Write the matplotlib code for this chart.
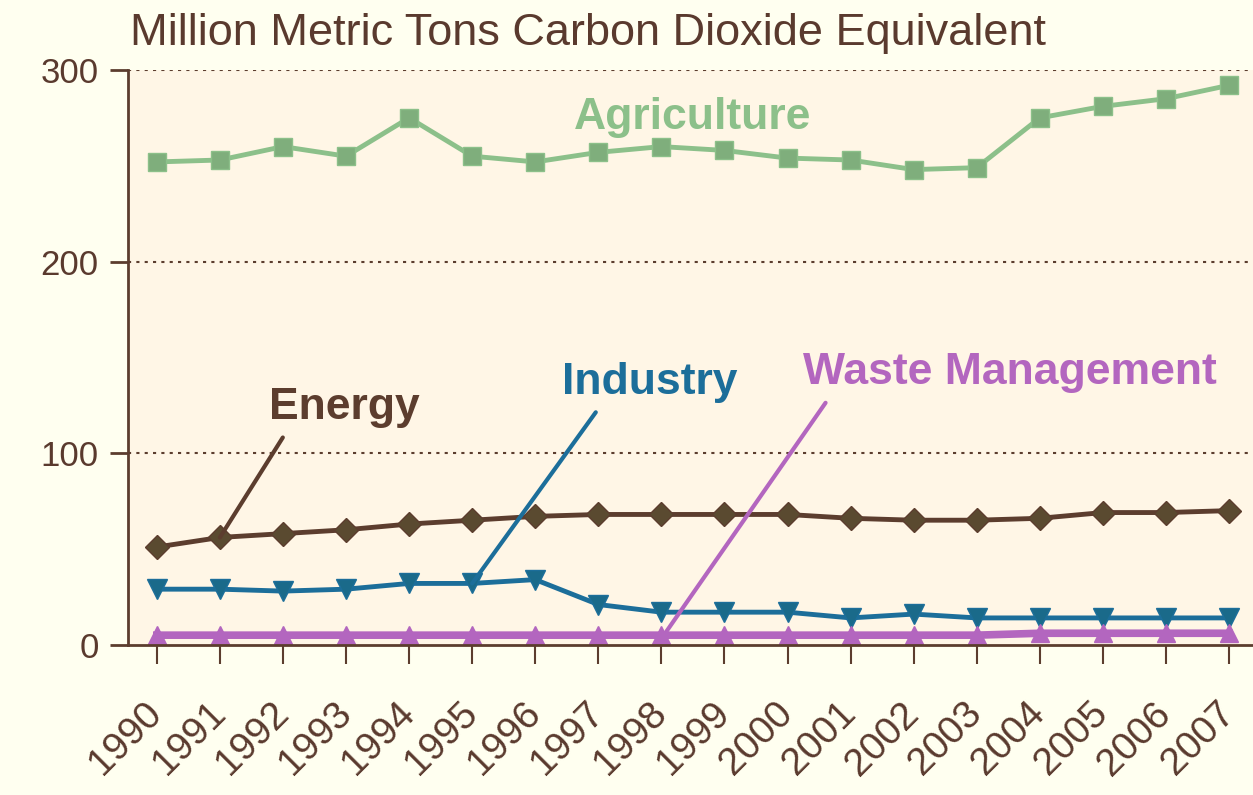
import matplotlib.pyplot as plt
from matplotlib.transforms import ScaledTranslation

plt.rcParams["font.family"] = ["Liberation Sans", "DejaVu Sans"]

years = list(range(1990, 2008))
agriculture = [252, 253, 260, 255, 275, 255, 252, 257, 260, 258, 254, 253, 248, 249, 275, 281, 285, 292]
energy = [51, 56, 58, 60, 63, 65, 67, 68, 68, 68, 68, 66, 65, 65, 66, 69, 69, 70]
industry = [29, 29, 28, 29, 32, 32, 34, 21, 17, 17, 17, 14, 16, 14, 14, 14, 14, 14]
waste = [5, 5, 5, 5, 5, 5, 5, 5, 5, 5, 5, 5, 5, 5, 6, 6, 6, 6]

TEXT = "#5a3a2e"
BROWN = "#5c3d2e"
GREEN = "#8cc08a"
BLUE = "#1c6e9a"
PURPLE = "#b366bf"

fig = plt.figure(figsize=(12.53, 7.95), dpi=100, facecolor="#fffff0")
ax = fig.add_axes([0.102, 0.189, 0.898, 0.723])
ax.set_facecolor("#fff6e6")

ax.plot(years, agriculture, color=GREEN, lw=3.5, marker="s", ms=13,
        mfc="#7fae7c", mec=GREEN)
ax.plot(years, energy, color=BROWN, lw=3.5, marker="D", ms=12,
        mfc="#5a4a30", mec=BROWN)
ax.plot(years, industry, color=BLUE, lw=3.5, marker="v", ms=14,
        mfc="#1a6a8a", mec=BLUE)
ax.plot(years, waste, color=PURPLE, lw=5.5, marker="^", ms=13,
        mfc=PURPLE, mec=PURPLE)

ax.text(1998.5, 275, "Agriculture", color=GREEN, fontsize=32,
        fontweight="bold", ha="center", va="center")

labels = [
    ("Energy", (1991, 56), (1992.98, 124), BROWN, 0.13),
    ("Industry", (1995, 32), (1997.82, 137), BLUE, 0.23),
    ("Waste Management", (1998.06, 6), (2003.53, 142), PURPLE, 0.07),
]
for name, point, pos, col, rx in labels:
    ax.annotate(name, xy=point, xytext=pos, color=col, fontsize=32,
                fontweight="bold", ha="center", va="center",
                arrowprops=dict(arrowstyle="-", color=col, lw=3,
                                relpos=(rx, 0), shrinkA=6, shrinkB=0))

ax.set_xlim(1989.54, 2007.38)
ax.set_ylim(0, 300)
ax.set_yticks([0, 100, 200, 300])
ax.set_xticks(years)
ax.set_xticklabels([str(y) for y in years], rotation=45, ha="right", va="top",
                   rotation_mode="anchor")
ax.tick_params(axis="x", length=14, width=1.5, color=BROWN, labelsize=28,
               labelcolor=TEXT, pad=16)
ax.tick_params(axis="y", length=13, width=2, color=BROWN, labelsize=25,
               labelcolor=TEXT, pad=8)
shift = ScaledTranslation(-0.13, -0.09, fig.dpi_scale_trans)
for lab in ax.get_xticklabels():
    lab.set_transform(lab.get_transform() + shift)

for v in [100, 200, 300]:
    ax.axhline(v, color=BROWN, lw=1.5, ls=(0, (1.5, 2.5)))

for side in ["top", "right"]:
    ax.spines[side].set_visible(False)
ax.spines["left"].set_color(BROWN)
ax.spines["left"].set_linewidth(2)
ax.spines["bottom"].set_color(BROWN)
ax.spines["bottom"].set_linewidth(2)

fig.text(0.104, 0.958, "Million Metric Tons Carbon Dioxide Equivalent",
         color=TEXT, fontsize=32.5, ha="left", va="center")

fig.savefig("out.png", dpi=100, facecolor=fig.get_facecolor())
